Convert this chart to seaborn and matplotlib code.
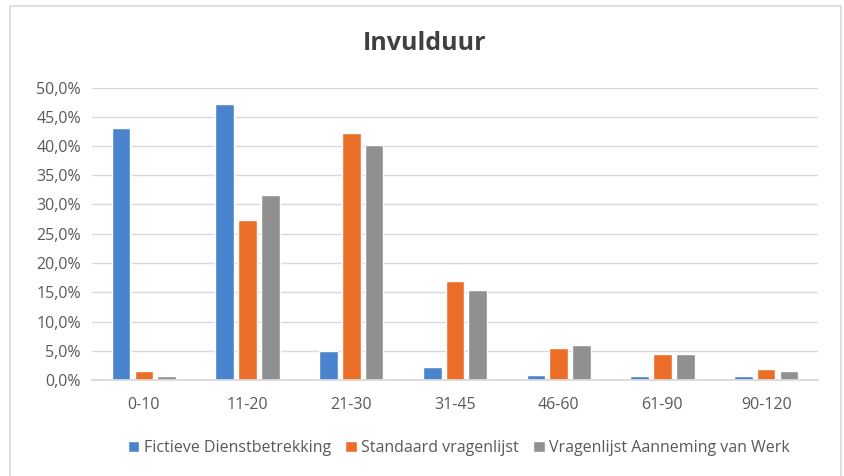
import matplotlib
matplotlib.use("Agg")
import matplotlib.pyplot as plt
from matplotlib.patches import Rectangle
from matplotlib.ticker import FuncFormatter
import seaborn as sns
import pandas as pd

# Data (fractions)
categories = ["0-10", "11-20", "21-30", "31-45", "46-60", "61-90", "90-120"]
fictieve = [0.431, 0.472, 0.050, 0.022, 0.009, 0.007, 0.006]
standaard = [0.015, 0.274, 0.422, 0.170, 0.054, 0.044, 0.019]
aanneming = [0.007, 0.316, 0.402, 0.154, 0.060, 0.044, 0.015]
series_names = ["Fictieve Dienstbetrekking", "Standaard vragenlijst", "Vragenlijst Aanneming van Werk"]
colors = ["#4A84CE", "#EB6E28", "#909090"]

df = pd.DataFrame({
    "Invulduur": categories * 3,
    "Aandeel": fictieve + standaard + aanneming,
    "Vragenlijst": [series_names[0]] * 7 + [series_names[1]] * 7 + [series_names[2]] * 7,
})

sns.set_theme(style="white")
plt.rcParams["font.family"] = ["Open Sans", "DejaVu Sans"]

fig = plt.figure(figsize=(8.44, 4.76), dpi=100)
ax = fig.add_axes([92 / 844, 1 - 380 / 476, (818 - 92) / 844, (380 - 87.5) / 476])

sns.barplot(data=df, x="Invulduur", y="Aandeel", hue="Vragenlijst",
            palette=colors, width=0.66, gap=0.18, saturation=1, ax=ax)

ax.set_ylim(0, 0.5)
ax.set_yticks([i * 0.05 for i in range(11)])
ax.yaxis.set_major_formatter(FuncFormatter(lambda v, p: f"{v * 100:.1f}%".replace(".", ",")))
ax.grid(axis="y", color="#D9D9D9", linewidth=1)
ax.set_axisbelow(True)
for s in ["top", "right", "left"]:
    ax.spines[s].set_visible(False)
ax.spines["bottom"].set_color("#D9D9D9")
ax.tick_params(axis="both", length=0, labelsize=11.5, labelcolor="#595959")
ax.tick_params(axis="x", pad=12)
ax.tick_params(axis="y", pad=8)
ax.set_xlabel("")
ax.set_ylabel("")

fig.text(425 / 844, 1 - 43 / 476, "Invulduur", ha="center", va="center",
         fontsize=18, fontweight="bold", color="#404040")

handles, labels = ax.get_legend_handles_labels()
ax.get_legend().remove()
fig.legend(handles, labels, loc="center", bbox_to_anchor=(459 / 844, 1 - 448 / 476),
           ncol=3, frameon=False, fontsize=11.5, handlelength=0.7, handleheight=0.7,
           handletextpad=0.3, columnspacing=0.9, labelcolor="#595959")

# light chart-area border
fig.patches.append(Rectangle((10 / 844, -0.05), (841 - 10) / 844, 1.05 - 6 / 476,
                             transform=fig.transFigure, fill=False,
                             edgecolor="#D9D9D9", linewidth=1.2))

fig.savefig("out.png", dpi=100)
